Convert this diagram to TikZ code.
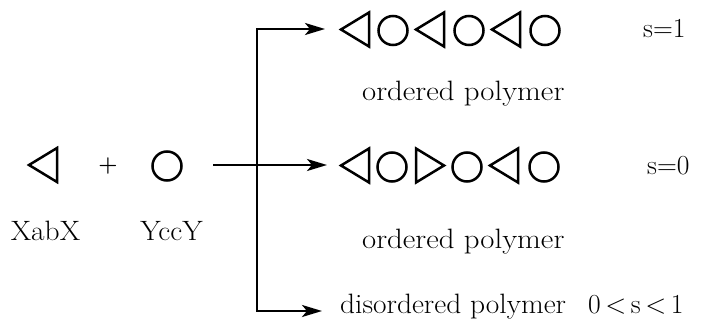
\documentclass[tikz,border=0pt]{standalone}
\usepackage{fontspec}
\newfontfamily\widerm{Latin Modern Roman}[FakeStretch=1.1]
\newfontfamily\midrm{Latin Modern Roman}[FakeStretch=1.05]
\usetikzlibrary{arrows.meta}
\begin{document}
\begin{tikzpicture}[x=1pt,y=-1pt,
  mono/.style={line width=2.5pt, line join=miter},
  link/.style={line width=2.5pt, line join=miter,
    -{Stealth[length=20pt,width=12pt,inset=5pt]}},
  lbl/.style={font=\widerm\fontsize{28}{32}\selectfont, inner sep=0pt},
  lblb/.style={font=\midrm\fontsize{28}{32}\selectfont, inner sep=0pt},
  val/.style={font=\fontsize{27.5}{32}\selectfont, inner sep=0pt},
  tril/.pic={\draw[mono] (14,-17) -- (-14,0) -- (14,17) -- cycle;},
  trir/.pic={\draw[mono] (-14,-17) -- (14,0) -- (-14,17) -- cycle;},
  ring/.pic={\draw[mono] (0,0) circle (14.5);}]
\useasboundingbox[fill=white] (0,0) rectangle (712,321);

% monomers
\pic at (43,165) {tril};
\node[font=\bfseries\fontsize{22}{26}\selectfont, inner sep=0pt, anchor=base] (plus) at (108,171) {+};
\pic at (167,166) {ring};
\node[lblb, anchor=base] (xab) at (45.5,240) {XabX};
\node[lblb, anchor=base] (ycc) at (171.5,240) {YccY};

% ordered chain, s=1
\pic at (355,29.5) {tril};
\pic at (393,30.5) {ring};
\pic at (430,29.5) {tril};
\pic at (469,30.5) {ring};
\pic at (506,29.5) {tril};
\pic at (545,30.5) {ring};
\node[val, anchor=base west] (s1) at (643,38) {s=1};
\node[lbl, anchor=base west] (ord1) at (362,100) {ordered polymer};

% ordered chain, s=0
\pic at (355,165.5) {tril};
\pic at (392,167) {ring};
\pic at (430,165.5) {trir};
\pic at (467,167) {ring};
\pic at (504,165.5) {tril};
\pic at (544,167) {ring};
\node[val, anchor=base west] (s0) at (647,174) {s=0};
\node[lbl, anchor=base west] (ord2) at (362,248) {ordered polymer};

% disordered product
\node[lblb, anchor=base west] (dis) at (340,313) {disordered polymer};
\node[val, anchor=base west] (range) at (588,313) {0\,<\,s\,<\,1};

% reaction arrows
\coordinate (src) at (213,165);
\coordinate (fork) at (257,165);
\coordinate (tgtA) at (325,29);
\coordinate (tgtB) at (327,165);
\coordinate (tgtC) at (322,311);
\draw[link] (src) -- (tgtB);
\draw[link] (fork) |- (tgtA);
\draw[link] (fork) |- (tgtC);
\end{tikzpicture}
\end{document}
